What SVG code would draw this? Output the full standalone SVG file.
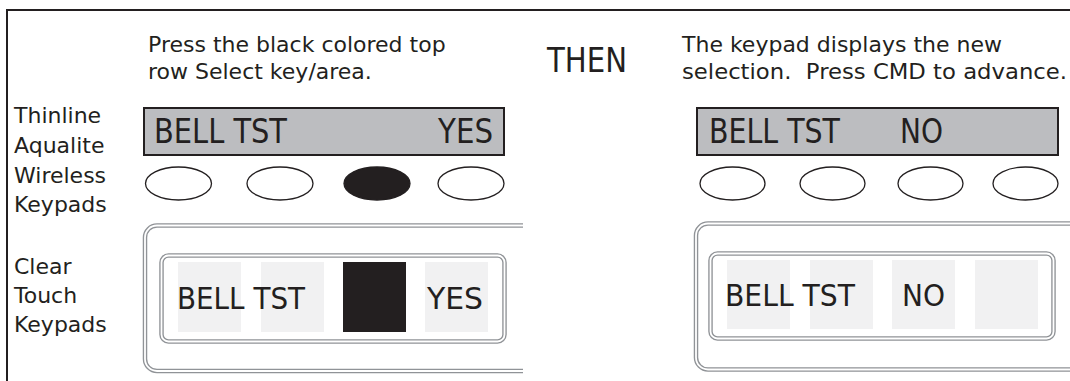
<svg xmlns="http://www.w3.org/2000/svg" width="1070" height="381" viewBox="0 0 1070 381">
<style>
text{font-family:"DejaVu Sans","Verdana",sans-serif;fill:#231f20}
.t{font-size:22px}
.lcd{fill:#bcbdc0;stroke:#231f20;stroke-width:2}
.key{fill:#fff;stroke:#231f20;stroke-width:1.3}
.keyon{fill:#231f20;stroke:#231f20;stroke-width:1.3}
.big{font-size:34px}
.mid{font-size:31px}
.cell{fill:#f1f1f2}
.cellon{fill:#231f20}
.dbl{fill:none;stroke:#909397;stroke-width:4.5}
.dbli{fill:none;stroke:#fff;stroke-width:1.8}
</style>
<rect x="7" y="10" width="1100" height="400" fill="none" stroke="#231f20" stroke-width="2"/>
<g id="labels">
<text class="t" x="14" y="123">Thinline</text>
<text class="t" x="14" y="153">Aqualite</text>
<text class="t" x="14" y="183">Wireless</text>
<text class="t" x="14" y="212">Keypads</text>
<text class="t" x="14" y="274">Clear</text>
<text class="t" x="14" y="303">Touch</text>
<text class="t" x="14" y="332">Keypads</text>
</g>
<g id="instructions">
<text class="t" x="148" y="52">Press the black colored top</text>
<text class="t" x="148" y="79">row Select key/area.</text>
<text class="big" x="547" y="72" textLength="80" lengthAdjust="spacingAndGlyphs">THEN</text>
<text class="t" x="682" y="52">The keypad displays the new</text>
<text class="t" x="682" y="79" xml:space="preserve" textLength="385" lengthAdjust="spacingAndGlyphs">selection.  Press CMD to advance.</text>
</g>
<g id="thinline-before">
<rect class="lcd" x="144" y="108" width="360" height="47"/>
<text class="big" x="154" y="143" textLength="133" lengthAdjust="spacingAndGlyphs">BELL TST</text>
<text class="big" x="438" y="143" textLength="55" lengthAdjust="spacingAndGlyphs">YES</text>
<ellipse class="key" cx="178.5" cy="183.5" rx="33" ry="16.5"/>
<ellipse class="key" cx="280" cy="183.5" rx="33" ry="16.5"/>
<ellipse class="keyon" cx="377" cy="183.5" rx="33" ry="16.5"/>
<ellipse class="key" cx="471" cy="183.5" rx="33" ry="16.5"/>
</g>
<g id="thinline-after">
<rect class="lcd" x="697" y="108" width="361" height="47"/>
<text class="big" x="709" y="143" textLength="131" lengthAdjust="spacingAndGlyphs">BELL TST</text>
<text class="big" x="900" y="143" textLength="43" lengthAdjust="spacingAndGlyphs">NO</text>
<ellipse class="key" cx="732.5" cy="183.5" rx="32.5" ry="16.5"/>
<ellipse class="key" cx="832.5" cy="183.5" rx="32.5" ry="16.5"/>
<ellipse class="key" cx="930.5" cy="183.5" rx="32.5" ry="16.5"/>
<ellipse class="key" cx="1025.5" cy="183.5" rx="32.5" ry="16.5"/>
</g>
<g id="cleartouch-before">
<path class="dbl" d="M523 225.5H157A12 12 0 0 0 145 237.5V359A12 12 0 0 0 157 371H523"/>
<path class="dbli" d="M523 225.5H157A12 12 0 0 0 145 237.5V359A12 12 0 0 0 157 371H523"/>
<rect class="dbl" x="161.5" y="255.5" width="343" height="86" rx="7"/>
<rect class="dbli" x="161.5" y="255.5" width="343" height="86" rx="7"/>
<rect class="cell" x="178" y="262" width="63" height="70"/>
<rect class="cell" x="261" y="262" width="63" height="70"/>
<rect class="cellon" x="343" y="262" width="63" height="70"/>
<rect class="cell" x="425" y="262" width="63" height="70"/>
<text class="mid" x="177" y="309" textLength="128" lengthAdjust="spacingAndGlyphs">BELL TST</text>
<text class="mid" x="427" y="309" textLength="56" lengthAdjust="spacingAndGlyphs">YES</text>
</g>
<g id="cleartouch-after">
<path class="dbl" d="M1075 223.5H708A12 12 0 0 0 696 235.5V357.5A12 12 0 0 0 708 369.5H1075"/>
<path class="dbli" d="M1075 223.5H708A12 12 0 0 0 696 235.5V357.5A12 12 0 0 0 708 369.5H1075"/>
<rect class="dbl" x="710.5" y="253.5" width="343" height="85" rx="7"/>
<rect class="dbli" x="710.5" y="253.5" width="343" height="85" rx="7"/>
<rect class="cell" x="727" y="260" width="63" height="69"/>
<rect class="cell" x="810" y="260" width="63" height="69"/>
<rect class="cell" x="892" y="260" width="63" height="69"/>
<rect class="cell" x="975" y="260" width="63" height="69"/>
<text class="mid" x="725" y="306" textLength="130" lengthAdjust="spacingAndGlyphs">BELL TST</text>
<text class="mid" x="902" y="306" textLength="43" lengthAdjust="spacingAndGlyphs">NO</text>
</g>
<g id="connectors"/>
</svg>
